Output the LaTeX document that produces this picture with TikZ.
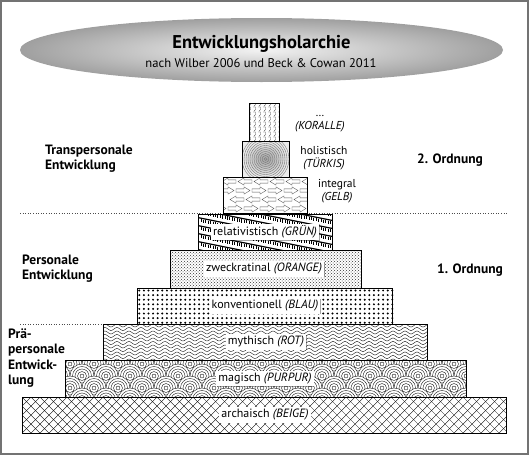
\documentclass[tikz,border=0pt]{standalone}
\usepackage{fontspec}
\setmainfont{PT Sans}
\usetikzlibrary{patterns,shadows}

\tikzset{
  stufe/.style={draw, line width=.5pt},
  muster/.style={line width=.35pt},
  stufentext/.style={fill=white, inner sep=2pt, font=\fontsize{12}{14}\selectfont,
    drop shadow={shadow xshift=.8pt, shadow yshift=-.8pt, fill=black, opacity=.35}},
  farbtext/.style={align=center, inner sep=0pt, font=\fontsize{11.5}{13}\selectfont},
  bereich/.style={align=left, anchor=west, inner sep=0pt, font=\bfseries\fontsize{13.5}{14.8}\selectfont},
  ordnung/.style={inner sep=0pt, font=\bfseries\fontsize{13.5}{15}\selectfont},
  trenner/.style={dotted, line width=.6pt, black!70},
}

\begin{document}
\begin{tikzpicture}[x=1pt,y=-1pt]
  \useasboundingbox (0,0) rectangle (530,455);
  \draw[black!55, line width=1.5pt] (1,1) rectangle (528,454);

  % Titel
  \shade[inner color=gray!10, outer color=gray!75]
    (261.5,50) ellipse [x radius=241.5pt, y radius=32pt];
  \node[font=\bfseries\fontsize{18.5}{20}\selectfont] (titel) at (261.5,44) {Entwicklungsholarchie};
  \node[font=\fontsize{12.6}{14}\selectfont] (quelle) at (261,63) {nach Wilber 2006 und Beck \& Cowan 2011};

  % Trennlinien
  \draw[trenner] (20,213) -- (508,213);
  \draw[trenner] (20,324) -- (103,324);

  % archaisch
  \fill[white] (22,397) rectangle (506,433);
  \begin{scope}
    \clip (22,397) rectangle (506,433);
    \foreach \k in {0,...,58}
      \draw[muster] (\k*9-14,397) -- ++(36,36) (\k*9+22,397) -- ++(-36,36);
  \end{scope}
  \draw[stufe] (22,397) rectangle (506,433);

  % magisch
  \fill[white] (65,360) rectangle (466,397);
  \begin{scope}
    \clip (65,360) rectangle (466,397);
    \foreach \r/\o in {0/0,1/12,2/0,3/12,4/0}
      \foreach \c in {0,...,17}
        \filldraw[muster, fill=white] (\c*24+\o+58,352+\r*12) circle (12pt)
          circle (9.5pt) circle (7pt) circle (4.5pt) circle (2pt);
  \end{scope}
  \draw[stufe] (65,360) rectangle (466,397);

  % mythisch
  \fill[white] (103,324) rectangle (427,360);
  \begin{scope}
    \clip (103,324) rectangle (427,360);
    \foreach \k in {0,...,11}
      \draw[muster] plot[domain=100:430, samples=220, smooth]
        (\x,{322+3.5*\k+1.5*sin(30*\x)});
  \end{scope}
  \draw[stufe] (103,324) rectangle (427,360);

  % konventionell
  \fill[white] (137,288) rectangle (392,324);
  \foreach \i in {0,...,55}
    \foreach \j in {0,...,7}
      \fill (139.3+\i*4.6,290.5+\j*4.6) circle (1.1pt);
  \draw[stufe] (137,288) rectangle (392,324);

  % zweckratinal
  \fill[white] (170,250) rectangle (361,288);
  \fill[pattern=crosshatch dots, pattern color=black!80] (170,250) rectangle (361,288);
  \draw[stufe] (170,250) rectangle (361,288);

  % relativistisch
  \fill[white] (198,214) rectangle (332,250);
  \begin{scope}
    \clip (198,214) rectangle (332,250);
    \foreach \k in {-4,...,5} {
      \draw[line width=1.2pt] (190,208+\k*8) -- ++(150,30);
      \foreach \i in {0,...,57}
        \draw[muster] (196+\i*2.4,{209+\k*8+0.2*(6+\i*2.4)}) -- ++(0,3.2);
    }
  \end{scope}
  \draw[stufe] (198,214) rectangle (332,250);

  % integral
  \fill[white] (223,177) rectangle (307,213);
  \begin{scope}
    \clip (223,177) rectangle (307,213);
    \foreach \r/\o in {0/0,2/8}
      \foreach \i in {0,...,6}
        \draw[muster, black!65] (\i*16+\o+236,179.9+\r*9) -- ++(-8,0) -- ++(0,-2)
          -- ++(-6,3.6) -- ++(6,3.6) -- ++(0,-2) -- ++(8,0) -- cycle;
    \foreach \r/\o in {1/8,3/0}
      \foreach \i in {0,...,6}
        \draw[muster, black!65] (\i*16+\o+212,179.9+\r*9) -- ++(8,0) -- ++(0,-2)
          -- ++(6,3.6) -- ++(-6,3.6) -- ++(0,-2) -- ++(-8,0) -- cycle;
  \end{scope}
  \draw[stufe] (223,177) rectangle (307,213);

  % holistisch
  \shade[inner color=gray!75, outer color=gray!15] (242,141) rectangle (289,177);
  \begin{scope}
    \clip (242,141) rectangle (289,177);
    \foreach \s in {1.5,3.5,...,23.5}
      \draw[muster, black!55] (265.5,159) circle (\s pt);
  \end{scope}
  \draw[stufe] (242,141) rectangle (289,177);

  % Koralle
  \fill[white] (249,103) rectangle (279,141);
  \begin{scope}
    \clip (249,103) rectangle (279,141);
    \foreach \i in {0,...,6}
      \foreach \j in {0,...,8}
        \draw[muster, black!75] (248+\i*5,102+\j*5) -- ++(2.5,0) -- ++(0,2.5)
          (250.5+\i*5,104.5+\j*5) -- ++(-1.5,1.8);
  \end{scope}
  \draw[stufe] (249,103) rectangle (279,141);

  % Beschriftung der Stufen
  \node[stufentext] (archaisch) at (265,415) {archaisch \textit{(BEIGE)}};
  \node[stufentext] (magisch) at (265,378.5) {magisch \textit{(PURPUR)}};
  \node[stufentext] (mythisch) at (266,342) {mythisch \textit{(ROT)}};
  \node[stufentext] (konventionell) at (265,306) {konventionell \textit{(BLAU)}};
  \node[stufentext] (zweck) at (264,269) {zweckratinal \textit{(ORANGE)}};
  \node[stufentext] (relativ) at (265,232) {relativistisch \textit{(GRÜN)}};

  \node[farbtext] (integral) at (337,191) {integral\\\textit{(GELB)}};
  \node[farbtext] (holistisch) at (324,158) {holistisch\\\textit{(TÜRKIS)}};
  \node[farbtext] (koralle) at (320,124) {\dots\\\textit{(KORALLE)}};

  % Bereiche
  \node[bereich] (trans) at (45,158.5) {Transpersonale\\Entwicklung};
  \node[bereich, font=\bfseries\fontsize{13.5}{15.5}\selectfont] (prae) at (8,358) {Prä-\\personale\\Entwick-\\lung};
  \node[bereich] (pers) at (22,269) {Personale\\Entwicklung};

  \node[ordnung] (zweite) at (450,160) {2. Ordnung};
  \node[ordnung] (erste) at (470,270) {1. Ordnung};
\end{tikzpicture}
\end{document}
